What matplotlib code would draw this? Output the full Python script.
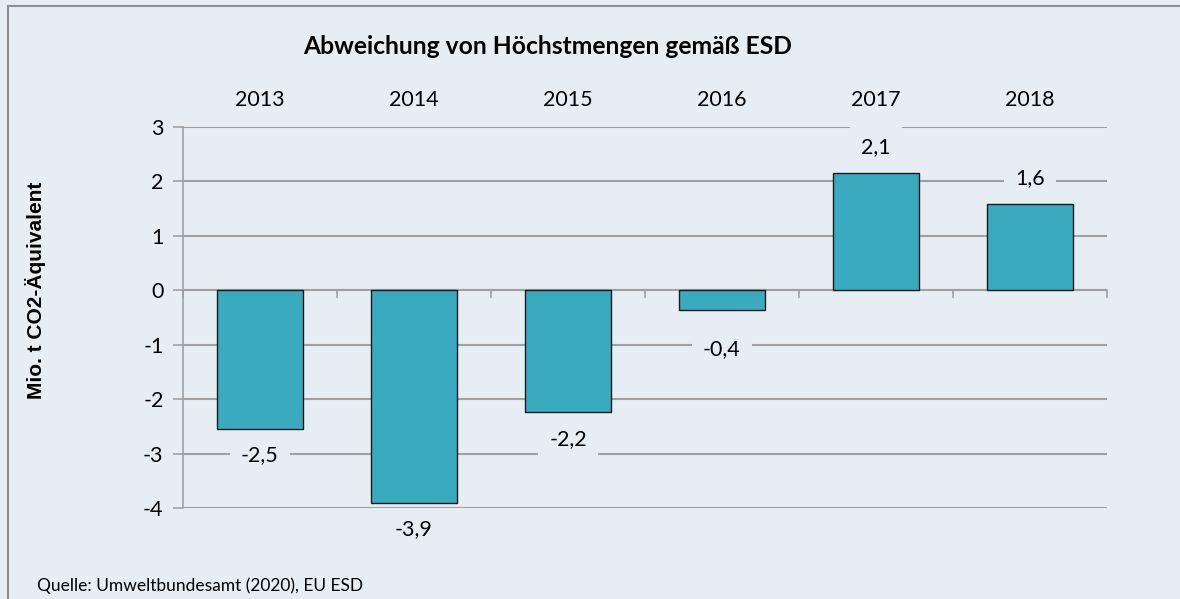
import matplotlib
matplotlib.use("Agg")
import matplotlib.pyplot as plt
from matplotlib.lines import Line2D

years = ["2013", "2014", "2015", "2016", "2017", "2018"]
values = [-2.54, -3.90, -2.24, -0.37, 2.15, 1.58]
labels = ["-2,5", "-3,9", "-2,2", "-0,4", "2,1", "1,6"]
yticks = [3, 2, 1, 0, -1, -2, -3, -4]

BG = "#E6EEF4"
BAR = "#3AABBE"
GRID = "#A0A0A0"
FONT = "Lato"
FS = 15.5

fig = plt.figure(figsize=(11.8, 5.99), dpi=100, facecolor=BG)
ax = fig.add_axes([183/1180, 1 - 508/599, (1107-183)/1180, (508-127)/599])
ax.set_facecolor(BG)

x = list(range(len(years)))
ax.bar(x, values, width=0.56, color=BAR, edgecolor="#1a1a1a", linewidth=1.0, zorder=3)

ax.set_xlim(-0.5, len(years) - 0.5)
ax.set_ylim(-4, 3)
ax.set_yticks(yticks)
ax.set_yticklabels([str(t) for t in yticks], fontsize=FS, family=FONT)
ax.yaxis.grid(True, color=GRID, linewidth=1.5, zorder=0)
ax.tick_params(axis="y", length=7, width=1.2, color=GRID, pad=7)

ax.set_xticks(x)
ax.set_xticklabels(years, fontsize=FS, family=FONT)
ax.xaxis.tick_top()
ax.tick_params(axis="x", which="major", length=0, pad=12, top=True, bottom=False,
               labeltop=True, labelbottom=False)

for s in ["top", "right", "bottom"]:
    ax.spines[s].set_visible(False)
ax.spines["left"].set_color(GRID)
ax.spines["left"].set_linewidth(1.2)
ax.set_axisbelow(True)

# zero line with category tick marks
ax.axhline(0, color=GRID, linewidth=1.5, zorder=2)
for b in [i - 0.5 for i in range(len(years) + 1)]:
    ax.plot([b, b], [0, -0.13], color=GRID, linewidth=1.2, zorder=2, clip_on=False)

# data labels
for xi, v, lab in zip(x, values, labels):
    off = 26 if v >= 0 else -27
    if lab == "-0,4":
        off = -39
    ax.annotate(lab, (xi, v), xytext=(0, off), textcoords="offset pixels",
                ha="center", va="center", fontsize=FS, family=FONT, zorder=5,
                bbox=dict(boxstyle="square,pad=0.5", facecolor=BG, edgecolor="none"))

fig.text(548/1180, 1 - 46/599, "Abweichung von Höchstmengen gemäß ESD", ha="center",
         va="center", fontsize=17.7, fontweight="bold", family=FONT)
fig.text(36/1180, 1 - 290/599, "Mio. t CO2-Äquivalent", rotation=90, ha="center",
         va="center", fontsize=15, fontweight="bold", family="Liberation Sans")
fig.text(37/1180, 1 - 586/599, "Quelle: Umweltbundesamt (2020), EU ESD", ha="left",
         va="center", fontsize=12.5, family=FONT)

# figure border (top and left)
fig.add_artist(Line2D([8/1180, 1], [1 - 6/599, 1 - 6/599], transform=fig.transFigure,
                      color="#909090", linewidth=1.5))
fig.add_artist(Line2D([8/1180, 8/1180], [0, 1 - 6/599], transform=fig.transFigure,
                      color="#909090", linewidth=1.5))

fig.savefig("out.png", dpi=100, facecolor=BG)
